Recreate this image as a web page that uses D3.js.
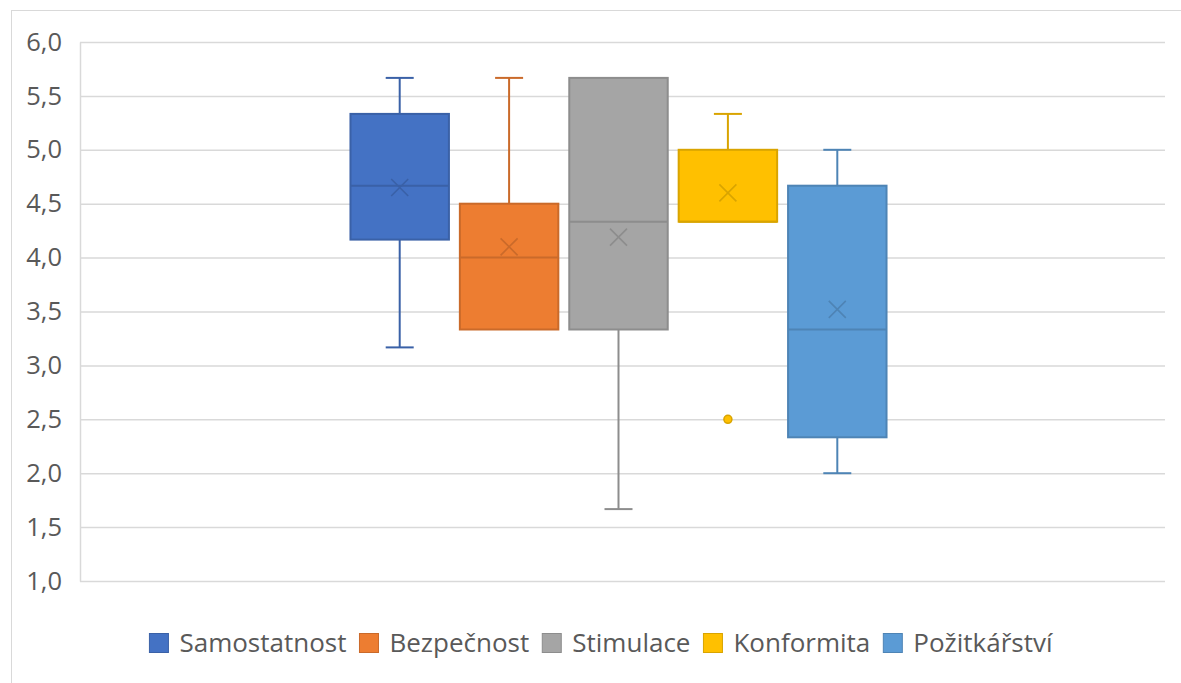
<!DOCTYPE html>
<html>
<head>
<meta charset="utf-8">
<script src="https://cdn.jsdelivr.net/npm/d3@7"></script>
<style>
  html, body { margin: 0; padding: 0; background: #ffffff; }
  svg { display: block; }
</style>
</head>
<body>
<svg id="chart" width="1181" height="683"></svg>
<script>
// ---- data ----
const seriesNames = ["Samostatnost", "Bezpečnost", "Stimulace", "Konformita", "Požitkářství"];
const minVals    = [3.167, 3.333, 1.667, 4.333, 2.0];
const q1Vals     = [4.167, 3.333, 3.333, 4.333, 2.333];
const medianVals = [4.667, 4.0,   4.333, 4.333, 3.333];
const q3Vals     = [5.333, 4.5,   5.667, 5.0,   4.667];
const maxVals    = [5.667, 5.667, 5.667, 5.333, 5.0];
const meanVals   = [4.65,  4.1,   4.19,  4.6,   3.52];
const outlierVals = [[], [], [], [2.5], []];
const fillColors = ["#4472C4", "#ED7D31", "#A5A5A5", "#FFC000", "#5B9BD5"];
const yTickVals = [1.0, 1.5, 2.0, 2.5, 3.0, 3.5, 4.0, 4.5, 5.0, 5.5, 6.0];

// ---- layout ----
const svg = d3.select("#chart");
const plot = { left: 80, right: 1165, top: 42, bottom: 581 };
const font = "'Open Sans', sans-serif";
const tickFontSize = "25.5px";
const legendFontSize = "26px";
const textColor = "#595959";
const gridColor = "#d9d9d9";

// chart border
svg.append("rect")
  .attr("x", 11.5).attr("y", 10.5)
  .attr("width", 1181).attr("height", 700)
  .attr("fill", "none").attr("stroke", gridColor).attr("stroke-width", 1);

const y = d3.scaleLinear().domain([1, 6]).range([plot.bottom, plot.top]);
const x = d3.scaleBand().domain(seriesNames).range([345, 892]).paddingInner(0.1).paddingOuter(0.05);

const locale = d3.formatLocale({ decimal: ",", thousands: " ", grouping: [3], currency: ["", " Kč"] });
const fmt = locale.format(".1f");

const yAxis = d3.axisLeft(y)
  .tickValues(yTickVals)
  .tickFormat(fmt)
  .tickSize(-(plot.right - plot.left))
  .tickSizeOuter(0)
  .tickPadding(18);

const gAxis = svg.append("g")
  .attr("transform", `translate(${plot.left},0)`)
  .call(yAxis);
gAxis.select(".domain").attr("stroke", gridColor).attr("stroke-width", 1.5);
gAxis.selectAll(".tick line").attr("stroke", gridColor).attr("stroke-width", 1.5);
gAxis.selectAll(".tick text")
  .attr("fill", textColor)
  .style("font-family", font)
  .style("font-size", tickFontSize);

// ---- boxes ----
const boxes = svg.append("g");
seriesNames.forEach((name, i) => {
  const fill = fillColors[i];
  const line = d3.color(fill).darker(0.45).formatHex();
  const x0 = x(name), bw = x.bandwidth(), cx = x0 + bw / 2;
  const capHalf = 14;
  const g = boxes.append("g");

  // upper whisker
  if (maxVals[i] > q3Vals[i]) {
    g.append("line").attr("x1", cx).attr("x2", cx)
      .attr("y1", y(maxVals[i])).attr("y2", y(q3Vals[i]))
      .attr("stroke", line).attr("stroke-width", 2);
    g.append("line").attr("x1", cx - capHalf).attr("x2", cx + capHalf)
      .attr("y1", y(maxVals[i])).attr("y2", y(maxVals[i]))
      .attr("stroke", line).attr("stroke-width", 2);
  }
  // lower whisker
  if (minVals[i] < q1Vals[i]) {
    g.append("line").attr("x1", cx).attr("x2", cx)
      .attr("y1", y(q1Vals[i])).attr("y2", y(minVals[i]))
      .attr("stroke", line).attr("stroke-width", 2);
    g.append("line").attr("x1", cx - capHalf).attr("x2", cx + capHalf)
      .attr("y1", y(minVals[i])).attr("y2", y(minVals[i]))
      .attr("stroke", line).attr("stroke-width", 2);
  }
  // box
  g.append("rect")
    .attr("x", x0).attr("y", y(q3Vals[i]))
    .attr("width", bw).attr("height", y(q1Vals[i]) - y(q3Vals[i]))
    .attr("fill", fill).attr("stroke", line).attr("stroke-width", 2);
  // median
  g.append("line").attr("x1", x0).attr("x2", x0 + bw)
    .attr("y1", y(medianVals[i])).attr("y2", y(medianVals[i]))
    .attr("stroke", line).attr("stroke-width", 2);
  // mean marker (x)
  const my = y(meanVals[i]), s = 8.5;
  g.append("path")
    .attr("d", `M${cx - s},${my - s}L${cx + s},${my + s}M${cx - s},${my + s}L${cx + s},${my - s}`)
    .attr("stroke", line).attr("stroke-width", 1.6).attr("fill", "none");
  // outliers
  outlierVals[i].forEach(v => {
    g.append("circle").attr("cx", cx).attr("cy", y(v)).attr("r", 4)
      .attr("fill", fill).attr("stroke", line).attr("stroke-width", 1.5);
  });
});

// ---- legend ----
const legend = svg.append("g");
const legendY = 643, sq = 19, gapText = 11, gapItem = 13;
const items = [];
seriesNames.forEach((name, i) => {
  const it = legend.append("g");
  it.append("rect").attr("x", 0).attr("y", -sq / 2).attr("width", sq).attr("height", sq)
    .attr("fill", fillColors[i]).attr("stroke", d3.color(fillColors[i]).darker(0.45).formatHex()).attr("stroke-width", 1);
  const t = it.append("text").attr("x", sq + gapText).attr("y", 0).attr("dy", "0.35em")
    .attr("fill", textColor).style("font-family", font).style("font-size", legendFontSize).text(name);
  const w = sq + gapText + t.node().getComputedTextLength();
  items.push({ it, w });
});
const total = d3.sum(items, d => d.w) + gapItem * (items.length - 1);
let start = 601 - total / 2;
items.forEach(d => {
  d.it.attr("transform", `translate(${start},${legendY})`);
  start += d.w + gapItem;
});
</script>
</body>
</html>
